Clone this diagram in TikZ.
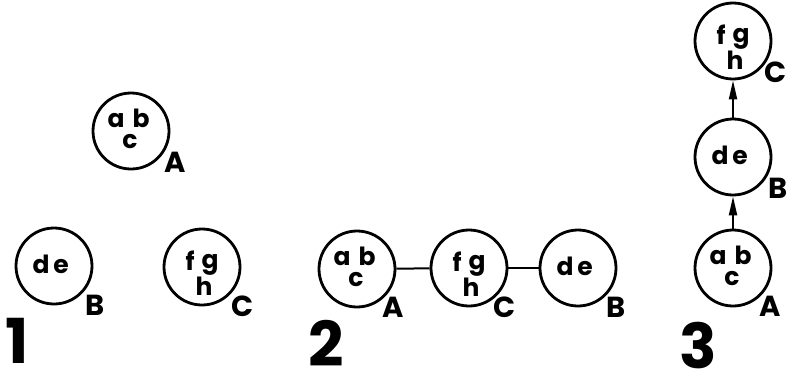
\documentclass[tikz,border=0pt]{standalone}
\usepackage{fontspec}
\setmainfont{Poppins}
\usetikzlibrary{arrows.meta}
\tikzset{
  cell/.style={circle,draw,line width=2.8pt,minimum size=76pt,inner sep=0pt},
  ltr/.style={font=\fontsize{25}{25}\selectfont\bfseries,inner sep=0pt,anchor=base},
  lbl/.style={font=\fontsize{29}{29}\selectfont\bfseries,inner sep=0pt},
  num/.style={font=\fontsize{62}{62}\selectfont\bfseries,inner sep=0pt,anchor=base},
  link/.style={line width=2pt},
  uparrow/.style={line width=2pt,-{Triangle[length=19pt,width=8pt]}}
}
\newcommand\cellabc[1]{%
  \node[ltr] (#1a) at ([shift={(-15,-4)}]#1.center) {a};
  \node[ltr] (#1b) at ([shift={(10,-4)}]#1.center) {b};
  \node[ltr] (#1c) at ([shift={(-1,17)}]#1.center) {c};}
\newcommand\celldef[1]{%
  \node[ltr] (#1d) at ([shift={(-13,7)}]#1.center) {d};
  \node[ltr] (#1e) at ([shift={(7,7)}]#1.center) {e};}
\newcommand\cellfgh[1]{%
  \node[ltr] (#1f) at ([shift={(-12,3)}]#1.center) {f};
  \node[ltr] (#1g) at ([shift={(8,1)}]#1.center) {g};
  \node[ltr] (#1h) at ([shift={(2,28)}]#1.center) {h};}
\begin{document}
\begin{tikzpicture}[x=1pt,y=-1pt]
\useasboundingbox (0,0) rectangle (786,373);
% panel 1
\node[cell] (A1) at (131,131) {};
\node[cell] (B1) at (54,266) {};
\node[cell] (C1) at (202,267) {};
\cellabc{A1}\celldef{B1}\cellfgh{C1}
\node[lbl] (LA1) at (175,162) {A};
\node[lbl] (LB1) at (95,305) {B};
\node[lbl] (LC1) at (243,306) {C};
\node[num] (N1) at (17,363) {1};
% panel 2
\node[cell] (A2) at (357,269) {};
\node[cell] (C2) at (469,268) {};
\node[cell] (B2) at (578,268) {};
\cellabc{A2}\cellfgh{C2}\celldef{B2}
\draw[link] (A2) -- (C2);
\draw[link] (C2) -- (B2);
\node[lbl] (LA2) at (393,307) {A};
\node[lbl] (LC2) at (505,307) {C};
\node[lbl] (LB2) at (616,307) {B};
\node[num] (N2) at (326,366) {2};
% panel 3
\node[cell] (C3) at (733,41) {};
\node[cell] (B3) at (733,157) {};
\node[cell] (A3) at (733,268) {};
\cellfgh{C3}\celldef{B3}\cellabc{A3}
\draw[uparrow] (A3) -- (B3);
\draw[uparrow] (B3) -- (C3);
\node[lbl] (LC3) at (776,72) {C};
\node[lbl] (LB3) at (778,188) {B};
\node[lbl] (LA3) at (770,306) {A};
\node[num] (N3) at (698,368) {3};
\end{tikzpicture}
\end{document}
